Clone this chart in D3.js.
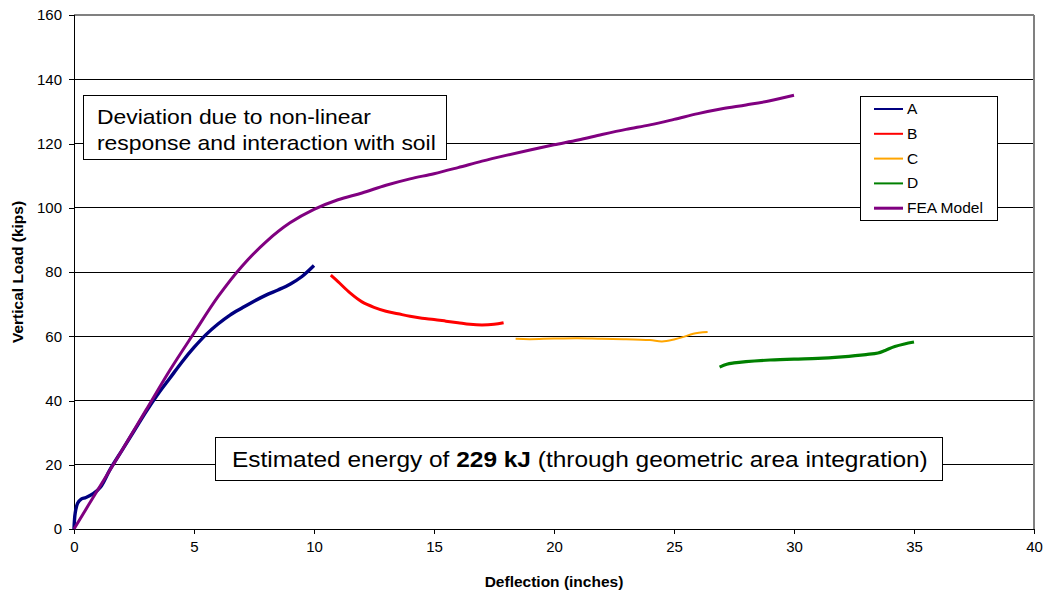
<!DOCTYPE html>
<html><head><meta charset="utf-8">
<script src="https://cdn.jsdelivr.net/npm/d3@7"></script>
<style>body{margin:0;background:#fff;font-family:"Liberation Sans",Arial,sans-serif}</style>
</head><body><svg id="c" width="1044" height="594" font-family="Liberation Sans, Arial, sans-serif"></svg>
<script>
const xTicks = [0,5,10,15,20,25,30,35,40];
const yTicks = [0,20,40,60,80,100,120,140,160];
const seriesNames = ["A","B","C","D","FEA Model"];
const seriesColors = ["#000080","#FF0000","#FFA500","#008000","#800080"];
const dataA = [[0,0],[0.05,5],[0.15,8],[0.3,9.3],[0.5,9.8],[0.8,11],[1.1,13],[1.5,18.5],[2,24.5],[2.5,30.5],[3,36.5],[3.5,42],[4,47],[4.5,52],[5,56.5],[5.5,60.5],[6,63.8],[6.5,66.6],[7,68.8],[7.5,70.9],[8,72.8],[8.5,74.4],[9,76.2],[9.5,78.6],[10,82]];
const dataB = [[10.7,79],[11,77],[11.5,73.5],[12,70.7],[12.5,69],[13,67.8],[13.5,67],[14,66.2],[14.5,65.6],[15,65.2],[15.5,64.7],[16,64.2],[16.5,63.7],[17,63.5],[17.5,63.7],[17.9,64.2]];
const dataC = [[18.4,59.2],[19,59.1],[20,59.3],[21,59.4],[22,59.2],[23,59.1],[24,58.8],[24.5,58.4],[25,59],[25.4,59.8],[25.8,60.8],[26.4,61.3]];
const dataD = [[26.9,50.4],[27.2,51.3],[27.5,51.7],[28,52.1],[29,52.6],[30,52.9],[31,53.1],[32,53.6],[33,54.3],[33.5,54.8],[33.8,55.6],[34.2,56.8],[34.6,57.6],[35,58.2]];
const dataFEA = [[0,0],[1,12.3],[2,24.5],[3,37],[4,49.5],[5,61],[6,72.3],[7,81.8],[8,89.4],[9,95.3],[10,99.5],[11,102.5],[12,104.6],[13,107],[14,109],[15,110.6],[16,112.5],[17,114.5],[18,116.3],[19,118],[20,119.6],[21,121.1],[22,122.8],[23,124.4],[24,125.8],[25,127.5],[26,129.3],[27,130.8],[28,132],[29,133.3],[30,135]];

const svg = d3.select("#c");
const L=74,R=1034,T=15,B=529;
const x = d3.scaleLinear().domain([0,40]).range([L,R]);
const y = d3.scaleLinear().domain([0,160]).range([B,T]);

function fit(sel, x0, target){
  const w = sel.node().getComputedTextLength ? sel.node().getComputedTextLength() : sel.node().getBBox().width;
  const s = target / w;
  sel.attr("transform", `translate(${x0},0) scale(${s},1) translate(${-x0},0)`);
}

svg.append("g").selectAll("line").data(yTicks.filter(d=>d>0&&d<160)).join("line")
  .attr("x1",L).attr("x2",R).attr("y1",d=>y(d)).attr("y2",d=>y(d))
  .attr("stroke","#000").attr("stroke-width",1).attr("shape-rendering","crispEdges");
svg.append("line").attr("x1",L).attr("x2",R).attr("y1",T).attr("y2",T).attr("stroke","#808080").attr("stroke-width",2).attr("shape-rendering","crispEdges");
svg.append("line").attr("x1",R).attr("x2",R).attr("y1",T).attr("y2",B).attr("stroke","#808080").attr("stroke-width",2).attr("shape-rendering","crispEdges");

const xa = svg.append("g").attr("transform",`translate(0,${B})`)
  .call(d3.axisBottom(x).tickValues(xTicks).tickSize(5).tickPadding(7).tickFormat(d3.format("d")));
const ya = svg.append("g").attr("transform",`translate(${L},0)`)
  .call(d3.axisLeft(y).tickValues(yTicks).tickSize(5).tickPadding(7).tickFormat(d3.format("d")));
[xa,ya].forEach(a=>{
  a.select(".domain").attr("stroke","#000").attr("shape-rendering","crispEdges");
  a.selectAll(".tick line").attr("stroke","#000").attr("shape-rendering","crispEdges");
  a.selectAll("text").attr("font-family","Liberation Sans, Arial, sans-serif").attr("font-size",15).attr("fill","#000");
});

svg.append("text").attr("x",(L+R)/2).attr("y",587).attr("text-anchor","middle")
  .attr("font-size",15.5).attr("font-weight","bold").text("Deflection (inches)");
svg.append("text").attr("transform",`translate(23,${(T+B)/2}) rotate(-90)`).attr("text-anchor","middle")
  .attr("font-size",15.5).attr("font-weight","bold").text("Vertical Load (kips)");

// annotation 1
svg.append("rect").attr("x",83.5).attr("y",95.5).attr("width",363).attr("height",64).attr("fill","#fff").attr("stroke","#000");
const a1 = svg.append("text").attr("x",97).attr("y",124).attr("font-size",20).attr("fill","#000").text("Deviation due to non-linear");
const a2 = svg.append("text").attr("x",97).attr("y",150).attr("font-size",20).attr("fill","#000").text("response and interaction with soil");
const s1 = 339 / a2.node().getComputedTextLength();
[a1,a2].forEach(t=>t.attr("transform",`translate(97,0) scale(${s1},1) translate(-97,0)`));

// annotation 2
svg.append("rect").attr("x",215.5).attr("y",437.5).attr("width",727).attr("height",43).attr("fill","#fff").attr("stroke","#000");
const t2 = svg.append("text").attr("x",232).attr("y",467).attr("font-size",22).attr("fill","#000");
t2.append("tspan").text("Estimated energy of ");
t2.append("tspan").attr("font-weight","bold").text("229 kJ");
t2.append("tspan").text(" (through geometric area integration)");
{
  const w = t2.node().getBBox().width;
  const s = 696 / w;
  t2.attr("transform",`translate(232,0) scale(${s},1) translate(-232,0)`);
}

// series
const line = d3.line().x(d=>x(d[0])).y(d=>y(d[1])).curve(d3.curveCatmullRom.alpha(0.5));
const all = [dataA,dataB,dataC,dataD,dataFEA];
const widths = [3.4,3,2,3.2,3];
all.forEach((d,i)=>{
  svg.append("path").datum(d).attr("d",line).attr("fill","none")
    .attr("stroke",seriesColors[i]).attr("stroke-width",widths[i]).attr("stroke-linejoin","round");
});

// legend
svg.append("rect").attr("x",860.5).attr("y",96.5).attr("width",137).attr("height",124).attr("fill","#fff").attr("stroke","#000");
const lg = svg.append("g").selectAll("g").data(seriesNames).join("g")
  .attr("transform",(d,i)=>`translate(0,${109+i*24.8})`);
lg.append("line").attr("x1",874).attr("x2",903).attr("y1",0).attr("y2",0)
  .attr("stroke",(d,i)=>seriesColors[i]).attr("stroke-width",(d,i)=>i===4?3:2);
const lt = lg.append("text").attr("x",907).attr("y",5).attr("font-size",14).text(d=>d);
const sl = 76 / lt.filter((d,i)=>i===4).node().getComputedTextLength();
lt.attr("transform",`translate(907,0) scale(${sl},1) translate(-907,0)`);
</script></body></html>
